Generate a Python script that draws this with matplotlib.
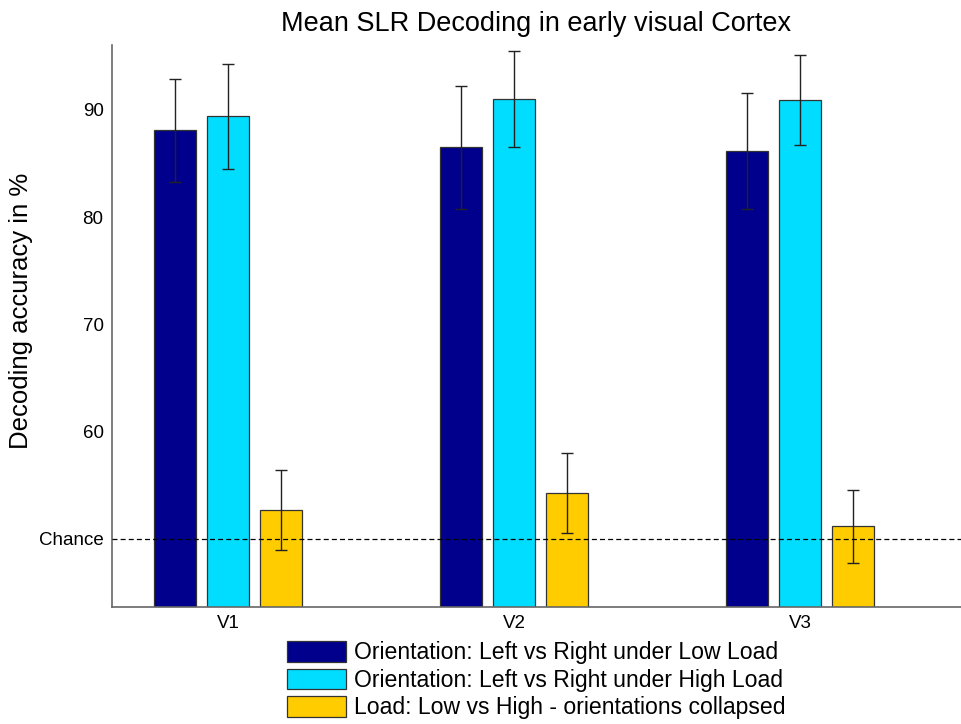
import matplotlib
matplotlib.use("Agg")
import matplotlib.pyplot as plt
import numpy as np

plt.rcParams['font.family'] = ['Liberation Sans', 'DejaVu Sans']

regions = ['V1', 'V2', 'V3']
series_names = ['Orientation: Left vs Right under Low Load',
                'Orientation: Left vs Right under High Load',
                'Load: Low vs High - orientations collapsed']
low_load = [88.1, 86.5, 86.2]
low_load_err = [4.8, 5.7, 5.4]
high_load = [89.4, 91.0, 90.9]
high_load_err = [4.9, 4.5, 4.2]
load_decoding = [52.7, 54.3, 51.2]
load_decoding_err = [3.7, 3.7, 3.4]
chance = 50
yticks = [50, 60, 70, 80, 90]
yticklabels = ['Chance', '60', '70', '80', '90']

colors = ['#00008C', '#00DDFF', '#FFCC00']

fig = plt.figure(figsize=(9.61, 7.24), dpi=100)
ax = fig.add_axes([0.1165, 0.1616, 0.8835, 0.7764])

x = np.arange(1, len(regions) + 1)
width = 0.147
pitch = 0.184
all_vals = [low_load, high_load, load_decoding]
all_errs = [low_load_err, high_load_err, load_decoding_err]
for i, (vals, errs, c, name) in enumerate(zip(all_vals, all_errs, colors, series_names)):
    pos = x + (i - 1) * pitch
    ax.bar(pos, vals, width=width, color=c, edgecolor='#333333', linewidth=0.9, label=name, zorder=2)
    ax.errorbar(pos, vals, yerr=errs, fmt='none', ecolor='#222222', elinewidth=1.0,
                capsize=4, capthick=1.0, zorder=3)

ax.axhline(chance, color='black', linestyle='--', linewidth=0.9, dashes=(4, 2.5), zorder=4)

ax.set_xlim(0.594, 3.563)
ax.set_ylim(43.66, 96.06)
ax.set_xticks(x)
ax.set_xticklabels(regions, fontsize=13.5)
ax.set_yticks(yticks)
ax.set_yticklabels(yticklabels, fontsize=13.5)
ax.tick_params(length=0, pad=6)
for s in ['top', 'right']:
    ax.spines[s].set_visible(False)
for s in ['left', 'bottom']:
    ax.spines[s].set_color('#666666')
    ax.spines[s].set_linewidth(1.2)

ax.set_ylabel('Decoding accuracy in %', fontsize=18.5)
ax.yaxis.set_label_coords(-0.093, 0.527)
ax.set_title('Mean SLR Decoding in early visual Cortex', fontsize=19.5, pad=10)

leg = ax.legend(loc='upper center', bbox_to_anchor=(0.5, -0.044), frameon=False,
                fontsize=16.6, handlelength=2.55, handleheight=1.0, labelspacing=0.19,
                handletextpad=0.35, borderaxespad=0)

fig.savefig('out.png', dpi=100)
